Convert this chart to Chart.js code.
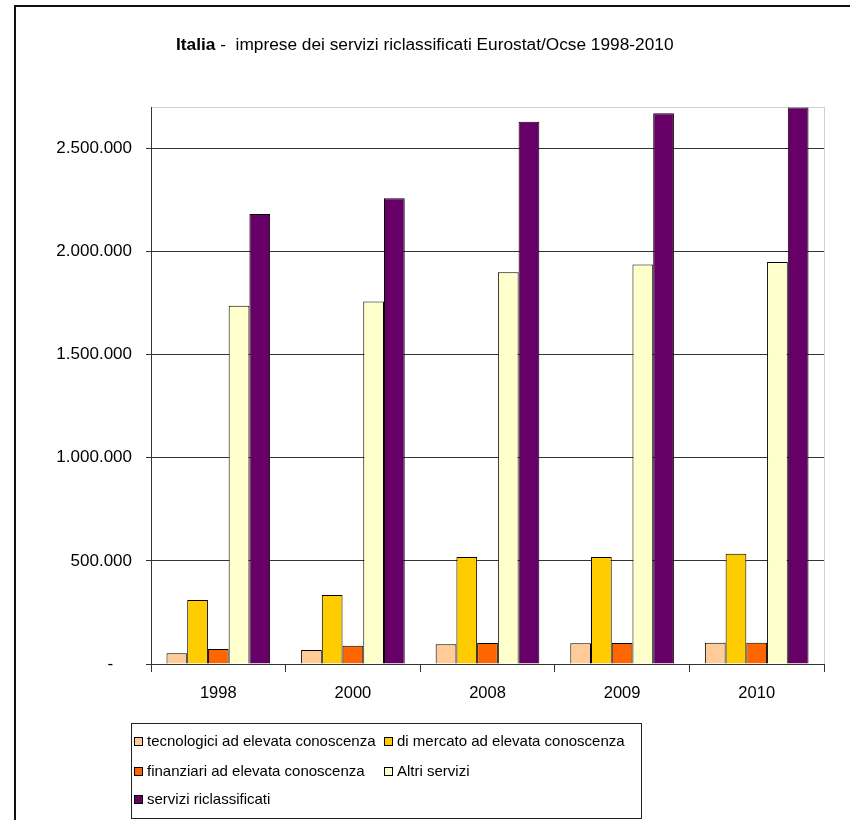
<!DOCTYPE html>
<html>
<head>
<meta charset="utf-8">
<script src="https://cdn.jsdelivr.net/npm/chart.js@4.4.0/dist/chart.umd.min.js"></script>
<style>
html, body { margin: 0; padding: 0; background: #fff; }
</style>
</head>
<body>
<canvas id="canvas1" width="850" height="820"></canvas>
<script>
// dati
var years = ['1998', '2000', '2008', '2009', '2010'];
var tecnologici = [52000, 68000, 96000, 101000, 103000];
var mercato = [310000, 335000, 519000, 519000, 534000];
var finanziari = [73000, 88000, 102000, 102000, 103000];
var altri = [1736000, 1757000, 1899000, 1936000, 1949000];
var riclassificati = [2181000, 2258000, 2628000, 2670000, 2698000];
var yTicks = [0, 500000, 1000000, 1500000, 2000000, 2500000];

var seriesNames = [
    'tecnologici ad elevata conoscenza',
    'di mercato ad elevata conoscenza',
    'finanziari ad elevata conoscenza',
    'Altri servizi',
    'servizi riclassificati'
];
var seriesColors = ['#FFCC99', '#FFCC00', '#FF6600', '#FFFFCC', '#660066'];
var seriesValues = [tecnologici, mercato, finanziari, altri, riclassificati];

var FONT = '"Liberation Sans", Arial, sans-serif';

var dataset = [];
for (var i = 0; i < seriesNames.length; i++) {
    dataset.push({
        label: seriesNames[i],
        data: seriesValues[i],
        backgroundColor: seriesColors[i],
        borderColor: '#000',
        borderWidth: 1,
        categoryPercentage: 0.77,
        barPercentage: 1
    });
}

function formatIt(v) {
    if (v === 0) return '-    ';
    return String(v).replace(/\B(?=(\d{3})+(?!\d))/g, '.');
}

// cornice, titolo e legenda disegnati a mano
var frame = {
    id: 'frame',
    beforeDraw: function (chart) {
        var ctx = chart.ctx, a = chart.chartArea;
        ctx.save();
        ctx.fillStyle = '#fff';
        ctx.fillRect(0, 0, chart.width, chart.height);
        ctx.strokeStyle = '#d0d0d0';
        ctx.lineWidth = 1;
        ctx.strokeRect(a.left + 0.5, a.top + 0.5, a.right - a.left, a.bottom - a.top);
        ctx.restore();
    },
    afterDraw: function (chart) {
        var ctx = chart.ctx;
        ctx.save();
        // bordo esterno
        ctx.strokeStyle = '#111';
        ctx.lineWidth = 2;
        ctx.beginPath();
        ctx.moveTo(15, 820);
        ctx.lineTo(15, 6);
        ctx.lineTo(850, 6);
        ctx.stroke();

        // titolo
        ctx.fillStyle = '#000';
        ctx.textBaseline = 'middle';
        ctx.font = 'bold 17.3px ' + FONT;
        ctx.fillText('Italia', 176, 45);
        var w = ctx.measureText('Italia').width;
        ctx.font = '17.3px ' + FONT;
        ctx.fillText(' -  imprese dei servizi riclassificati Eurostat/Ocse 1998-2010', 176 + w, 45);

        // legenda
        ctx.strokeStyle = '#222';
        ctx.lineWidth = 1;
        ctx.strokeRect(131.5, 723.5, 510, 95);
        var pos = [[134, 742], [384, 742], [134, 772], [384, 772], [134, 800]];
        ctx.font = '15px ' + FONT;
        var ds = chart.data.datasets;
        for (var k = 0; k < ds.length; k++) {
            var x = pos[k][0], y = pos[k][1];
            ctx.fillStyle = ds[k].backgroundColor;
            ctx.fillRect(x + 0.5, y - 4.5, 8, 8);
            ctx.strokeStyle = '#000';
            ctx.strokeRect(x + 0.5, y - 4.5, 8, 8);
            ctx.fillStyle = '#000';
            ctx.fillText(ds[k].label, x + 13, y);
        }
        ctx.restore();
    }
};

var ctx = document.getElementById('canvas1').getContext('2d');
var myChart = new Chart(ctx, {
    type: 'bar',
    data: {
        labels: years,
        datasets: dataset
    },
    options: {
        responsive: false,
        animation: false,
        layout: { padding: { top: 107, right: 26, left: 0, bottom: 0 } },
        plugins: {
            legend: { display: false },
            title: { display: false },
            tooltip: { enabled: false }
        },
        scales: {
            x: {
                grid: { offset: true, drawOnChartArea: false, drawTicks: true, tickLength: 8, color: '#333' },
                border: { color: '#333' },
                ticks: { font: { family: FONT, size: 16.5 }, color: '#000', padding: 12 },
                afterFit: function (s) { s.height = 156; }
            },
            y: {
                min: 0,
                max: 2700000,
                grid: { color: '#333', tickLength: 5 },
                border: { color: '#333' },
                ticks: {
                    font: { family: FONT, size: 17 },
                    color: '#000',
                    padding: 14,
                    autoSkip: false,
                    callback: function (v) { return formatIt(v); }
                },
                afterBuildTicks: function (s) {
                    s.ticks = yTicks.map(function (v) { return { value: v }; });
                },
                afterFit: function (s) { s.width = 151; }
            }
        }
    },
    plugins: [frame]
});
</script>
</body>
</html>
